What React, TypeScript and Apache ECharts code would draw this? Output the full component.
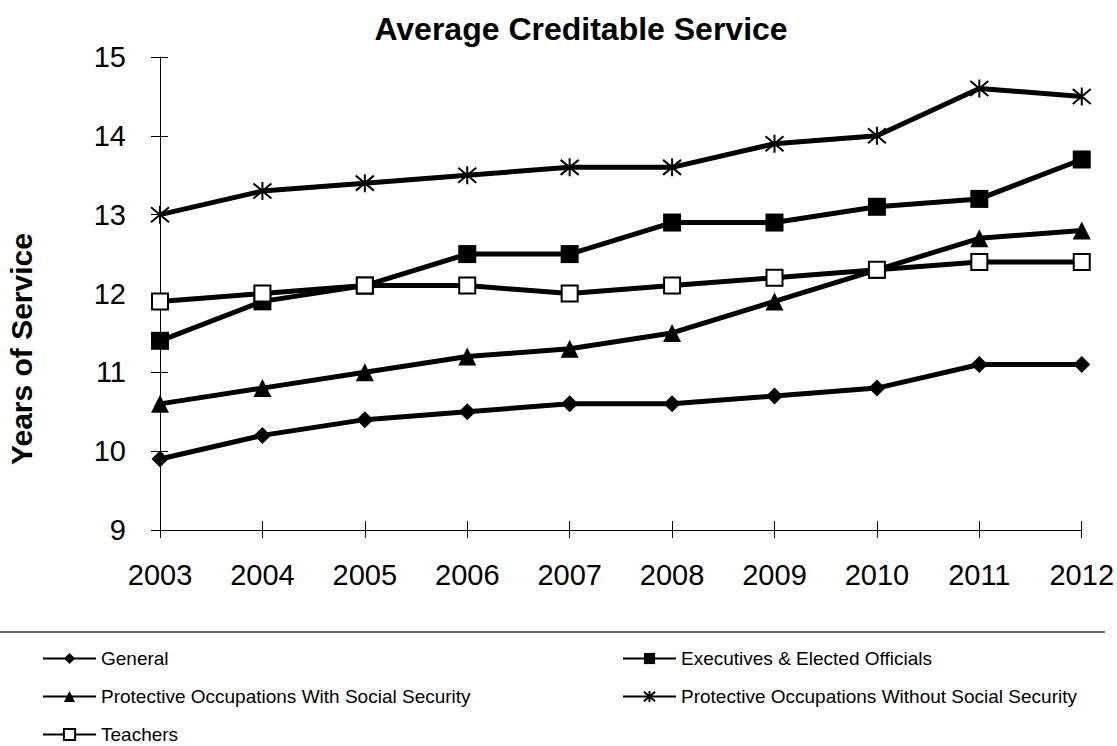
import React, { useEffect, useRef } from "react";
import * as echarts from "echarts";

const years = ["2003", "2004", "2005", "2006", "2007", "2008", "2009", "2010", "2011", "2012"];
const general = [9.9, 10.2, 10.4, 10.5, 10.6, 10.6, 10.7, 10.8, 11.1, 11.1];
const executives = [11.4, 11.9, 12.1, 12.5, 12.5, 12.9, 12.9, 13.1, 13.2, 13.7];
const protWith = [10.6, 10.8, 11.0, 11.2, 11.3, 11.5, 11.9, 12.3, 12.7, 12.8];
const protWithout = [13.0, 13.3, 13.4, 13.5, 13.6, 13.6, 13.9, 14.0, 14.6, 14.5];
const teachers = [11.9, 12.0, 12.1, 12.1, 12.0, 12.1, 12.2, 12.3, 12.4, 12.4];

const FONT = "Liberation Sans, Arial, sans-serif";
const ASTERISK = "path://M0,0L10,10M10,0L0,10M5,-1L5,11";

export default function App() {
  const ref = useRef<HTMLDivElement>(null);
  useEffect(() => {
    if (!ref.current) return;
    const chart = echarts.init(ref.current, null, { renderer: "svg" });
    const lineBase = (name: string, data: number[], symbol: string, size: number, extra: any = {}) => ({
      name,
      type: "line",
      data,
      symbol,
      symbolSize: size,
      showAllSymbol: true,
      lineStyle: { color: "#000", width: 5 },
      itemStyle: { color: "#000" },
      emphasis: { disabled: true },
      ...extra,
    });
    const legendCommon = {
      orient: "vertical",
      top: 644,
      height: 102,
      itemWidth: 53,
      itemHeight: 14,
      itemGap: 19,
      lineStyle: { width: 2 },
      textStyle: { fontSize: 19, color: "#000", fontFamily: FONT, padding: [0, 0, 0, 0] },
      selectedMode: false,
    };
    chart.setOption({
      animation: false,
      textStyle: { fontFamily: FONT },
      title: {
        text: "Average Creditable Service",
        left: 576,
        textAlign: "center",
        top: 8,
        textStyle: { fontSize: 32, fontWeight: "bold", color: "#000", fontFamily: FONT },
      },
      grid: { left: 160, right: 29, top: 57, bottom: 216, containLabel: false },
      xAxis: [
        {
          type: "category",
          data: years,
          boundaryGap: false,
          axisLine: { lineStyle: { color: "#000", width: 1 } },
          axisTick: { show: true, length: 8, lineStyle: { color: "#000" } },
          axisLabel: { fontSize: 29, color: "#000", margin: 30, fontFamily: FONT },
          splitLine: { show: false },
        },
        {
          type: "category",
          data: years,
          boundaryGap: false,
          position: "bottom",
          axisLine: { show: false },
          axisTick: { show: true, inside: true, length: 9, lineStyle: { color: "#000" } },
          axisLabel: { show: false },
          splitLine: { show: false },
        },
      ],
      yAxis: [
        {
          type: "value",
          min: 9,
          max: 15,
          interval: 1,
          axisLine: { show: true, lineStyle: { color: "#000", width: 1 } },
          axisTick: { show: true, length: 9, lineStyle: { color: "#000" } },
          axisLabel: { fontSize: 29, color: "#000", margin: 34, fontFamily: FONT },
          splitLine: { show: false },
        },
        {
          type: "value",
          min: 9,
          max: 15,
          interval: 1,
          position: "left",
          axisLine: { show: false },
          axisTick: { show: true, inside: true, length: 8, lineStyle: { color: "#000" } },
          axisLabel: { show: false },
          splitLine: { show: false },
        },
      ],
      legend: [
        {
          ...legendCommon,
          data: ["General", "Protective Occupations With Social Security", "Teachers"],
          left: 37,
        },
        {
          ...legendCommon,
          data: ["Executives & Elected Officials", "Protective Occupations Without Social Security"],
          left: 617,
        },
      ],
      graphic: [
        {
          type: "text",
          x: 21,
          y: 349,
          rotation: Math.PI / 2,
          style: {
            text: "Years of Service",
            font: "bold 30px Liberation Sans, Arial, sans-serif",
            fill: "#000",
            align: "center",
            verticalAlign: "middle",
          },
        },
        {
          type: "line",
          shape: { x1: 0, y1: 632, x2: 1105, y2: 632 },
          style: { stroke: "#333", lineWidth: 1.5 },
        },
      ],
      series: [
        lineBase("General", general, "diamond", 17),
        lineBase("Executives & Elected Officials", executives, "rect", 18),
        lineBase("Protective Occupations With Social Security", protWith, "triangle", 18),
        lineBase("Protective Occupations Without Social Security", protWithout, ASTERISK, 18, {
          itemStyle: { color: "#000", borderColor: "#000", borderWidth: 2 },
        }),
        lineBase("Teachers", teachers, "rect", 16, {
          itemStyle: { color: "#fff", borderColor: "#000", borderWidth: 2 },
        }),
      ],
    });
    return () => chart.dispose();
  }, []);
  return (
    <div
      ref={ref}
      style={{ position: "fixed", left: 0, top: 0, width: 1117, height: 746, background: "#fff" }}
    />
  );
}
